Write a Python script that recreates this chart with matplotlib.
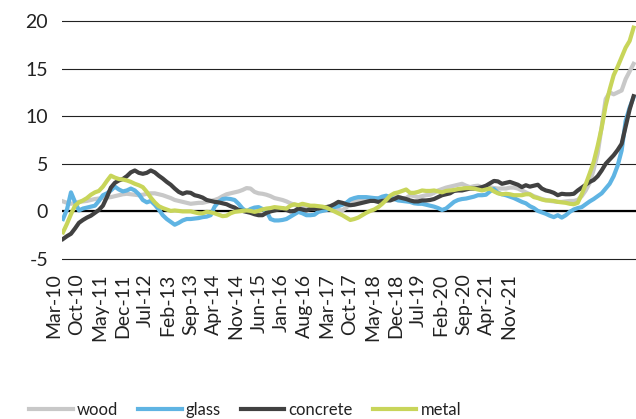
"""
Building material prices: wood, glass, concrete and metal, monthly, Mar-10 onward.
"""

import matplotlib.pyplot as plt
import numpy as np
import pandas as pd

plt.rcParams["font.family"] = ["Lato", "DejaVu Sans"]
plt.rcParams["axes.unicode_minus"] = False

# ---------------------------------------------------------------------------
# Data
# ---------------------------------------------------------------------------

MONTHS = pd.date_range("2010-03-01", periods=144, freq="MS")
LABEL_STEP = 7
Y_TICKS = [-5, 0, 5, 10, 15, 20]

wood = [
    1.05, 0.9, 0.8, 0.9, 1.0, 1.05, 1.1, 1.2, 1.3, 1.35,
    1.4, 1.45, 1.5, 1.6, 1.7, 1.8, 1.85, 1.8, 1.75, 1.7,
    1.75, 1.85, 1.9, 1.9, 1.8, 1.7, 1.55, 1.4, 1.2, 1.1,
    1.0, 0.9, 0.8, 0.85, 0.9, 0.9, 1.0, 1.1, 1.2, 1.35,
    1.6, 1.8, 1.9, 2.0, 2.1, 2.25, 2.45, 2.4, 2.05, 1.9,
    1.85, 1.75, 1.6, 1.4, 1.3, 1.2, 1.05, 0.85, 0.7, 0.55,
    0.45, 0.4, 0.3, 0.3, 0.4, 0.45, 0.35, 0.3, 0.25, 0.15,
    0.1, 0.4, 0.8, 1.1, 1.15, 1.15, 1.2, 1.25, 1.35, 1.4,
    1.45, 1.5, 1.6, 1.7, 1.55, 1.4, 1.4, 1.7, 1.6, 1.5,
    1.6, 1.7, 1.75, 1.95, 2.2, 2.35, 2.5, 2.6, 2.7, 2.8,
    2.9, 2.7, 2.55, 2.65, 2.7, 2.55, 2.55, 2.55, 2.45, 2.4,
    2.4, 2.4, 2.5, 2.5, 2.4, 2.2, 2.0, 1.8, 1.6, 1.45,
    1.3, 1.2, 1.1, 1.05, 1.0, 1.0, 1.05, 1.1, 1.1, 1.2,
    1.6, 2.2, 3.0, 4.4, 6.1, 8.9, 11.8, 12.5, 12.3, 12.5,
    12.7, 13.9, 14.7, 15.5,
]

glass = [
    -0.8, 0.2, 2.0, 1.0, 0.1, 0.3, 0.4, 0.5, 0.6, 1.1,
    1.7, 1.9, 2.2, 2.6, 2.3, 2.1, 2.2, 2.4, 2.2, 1.8,
    1.2, 0.95, 1.1, 0.7, 0.2, -0.4, -0.8, -1.1, -1.4, -1.2,
    -0.95, -0.8, -0.8, -0.75, -0.7, -0.6, -0.55, -0.4, 0.5, 1.0,
    1.3, 1.35, 1.3, 1.2, 0.8, 0.3, 0.0, 0.25, 0.4, 0.45,
    0.25, 0.0, -0.8, -0.95, -0.95, -0.9, -0.8, -0.55, -0.3, -0.05,
    -0.2, -0.4, -0.4, -0.35, -0.05, 0.05, 0.15, 0.3, 0.45, 0.55,
    0.7, 0.9, 1.25, 1.4, 1.5, 1.5, 1.5, 1.45, 1.4, 1.35,
    1.55, 1.65, 1.45, 1.3, 1.15, 1.1, 1.05, 1.0, 0.85, 0.8,
    0.8, 0.7, 0.6, 0.5, 0.35, 0.15, 0.3, 0.65, 1.0, 1.2,
    1.3, 1.35, 1.45, 1.55, 1.7, 1.7, 1.75, 2.1, 2.35, 1.95,
    1.8, 1.7, 1.55, 1.4, 1.2, 1.0, 0.85, 0.55, 0.35, 0.05,
    -0.1, -0.25, -0.45, -0.6, -0.4, -0.65, -0.4, -0.05, 0.2, 0.35,
    0.45, 0.75, 1.05, 1.3, 1.6, 1.9, 2.4, 2.9, 3.7, 4.8,
    6.4, 9.5, 10.9, 12.0,
]

concrete = [
    -2.9, -2.6, -2.35, -1.8, -1.2, -0.9, -0.65, -0.45, -0.15, 0.15,
    0.6, 1.5, 2.5, 3.0, 3.25, 3.4, 3.7, 4.1, 4.3, 4.05,
    3.95, 4.05, 4.3, 4.1, 3.75, 3.45, 3.1, 2.8, 2.4, 2.05,
    1.85, 2.0, 1.95, 1.7, 1.6, 1.45, 1.2, 1.1, 1.0, 0.95,
    0.85, 0.75, 0.55, 0.4, 0.15, 0.05, -0.05, -0.15, -0.3, -0.4,
    -0.4, -0.15, 0.0, 0.1, 0.2, 0.3, 0.15, 0.0, 0.05, 0.3,
    0.2, 0.1, 0.25, 0.3, 0.3, 0.4, 0.45, 0.55, 0.75, 1.0,
    0.9, 0.75, 0.65, 0.7, 0.8, 0.9, 1.0, 1.1, 1.1, 1.0,
    1.1, 1.15, 1.15, 1.3, 1.5, 1.4, 1.3, 1.15, 1.05, 1.05,
    1.15, 1.15, 1.2, 1.3, 1.5, 1.7, 1.8, 1.9, 2.15, 2.2,
    2.2, 2.3, 2.4, 2.4, 2.45, 2.55, 2.7, 2.95, 3.2, 3.15,
    2.9, 3.0, 3.1, 2.95, 2.8, 2.55, 2.75, 2.6, 2.7, 2.8,
    2.4, 2.2, 2.1, 1.95, 1.7, 1.85, 1.8, 1.8, 1.85, 2.2,
    2.5, 2.8, 3.1, 3.3, 3.7, 4.3, 5.0, 5.45, 5.9, 6.45,
    7.1, 8.9, 10.7, 12.1,
]

metal = [
    -2.2, -1.3, -0.3, 0.6, 0.95, 1.15, 1.4, 1.75, 2.0, 2.15,
    2.6, 3.2, 3.75, 3.55, 3.4, 3.35, 3.25, 3.1, 2.9, 2.75,
    2.55, 2.05, 1.45, 0.95, 0.55, 0.35, 0.2, 0.05, 0.1, 0.05,
    0.0, 0.0, 0.0, -0.1, -0.2, -0.2, -0.05, -0.1, -0.2, -0.35,
    -0.5, -0.45, -0.2, -0.05, 0.0, 0.05, 0.1, 0.05, -0.05, 0.05,
    0.2, 0.3, 0.35, 0.45, 0.4, 0.35, 0.3, 0.6, 0.75, 0.65,
    0.8, 0.7, 0.6, 0.6, 0.55, 0.5, 0.4, 0.2, 0.0, -0.2,
    -0.4, -0.65, -0.9, -0.8, -0.65, -0.4, -0.15, 0.05, 0.2, 0.45,
    0.8, 1.2, 1.65, 1.9, 2.0, 2.15, 2.3, 1.95, 1.95, 2.05,
    2.2, 2.15, 2.15, 2.2, 2.1, 2.0, 2.15, 2.2, 2.25, 2.35,
    2.4, 2.45, 2.45, 2.4, 2.3, 2.2, 2.3, 2.4, 2.1, 1.9,
    1.8, 1.85, 1.8, 1.7, 1.7, 1.7, 1.8, 1.8, 1.5, 1.4,
    1.25, 1.15, 1.15, 1.1, 1.0, 0.95, 0.9, 0.8, 0.75, 0.9,
    1.8, 2.85, 4.0, 5.2, 6.9, 8.8, 11.1, 12.8, 14.3, 15.2,
    16.2, 17.2, 17.9, 19.3,
]

SERIES = [
    ("wood", wood, "#c8c8c8"),
    ("glass", glass, "#5fb4e3"),
    ("concrete", concrete, "#414141"),
    ("metal", metal, "#c8d55a"),
]


def main() -> None:
    W, H = 636, 419
    fig = plt.figure(figsize=(W / 100, H / 100), dpi=100)

    # plot area: y from -5.2 to 20.2, 9.52 px per unit
    bottom = (H - 260.9) / H
    top = (H - 19.1) / H
    ax = fig.add_axes([62 / W, bottom, (W - 62) / W, top - bottom])

    x = np.arange(len(MONTHS))
    handles = []
    for name, values, color in SERIES:
        (line,) = ax.plot(x, values, color=color, lw=3, label=name,
                          solid_joinstyle="round", zorder=3)
        handles.append(line)

    ax.set_xlim(-0.25, len(MONTHS) - 0.4)
    ax.set_ylim(-5.2, 20.2)
    ax.set_yticks(Y_TICKS)
    ax.set_yticklabels([str(v) for v in Y_TICKS])
    ax.set_xticks([])
    ax.grid(axis="y", color="#222222", lw=0.8)
    ax.axhline(0, color="black", lw=1.6, zorder=2)
    ax.set_axisbelow(True)
    for s in ax.spines.values():
        s.set_visible(False)
    ax.tick_params(axis="y", length=0, pad=10, labelsize=14, labelcolor="#222222")

    # category labels every 7 months (label row is narrower than the plot)
    lab = fig.add_axes([54.2 / W, bottom, 455 / W, 0.001])
    lab.patch.set_visible(False)
    for s in lab.spines.values():
        s.set_visible(False)
    lab.set_yticks([])
    ticks = np.arange(0, len(MONTHS), LABEL_STEP)
    lab.set_xlim(0, ticks[-1])
    lab.set_xticks(ticks)
    lab.set_xticklabels([MONTHS[i].strftime("%b-%y") for i in ticks])
    lab.tick_params(axis="x", length=0, pad=9, labelsize=14,
                    labelrotation=90, labelcolor="#222222")

    fig.legend(
        handles=handles,
        loc="center left",
        bbox_to_anchor=(29.3 / W, (H - 410) / H),
        ncol=4,
        frameon=False,
        fontsize=12,
        handlelength=2.6,
        handletextpad=0.26,
        columnspacing=1.2,
        borderpad=0,
        borderaxespad=0,
        labelcolor="#222222",
    )

    fig.savefig("out.png", dpi=100)


if __name__ == "__main__":
    main()
